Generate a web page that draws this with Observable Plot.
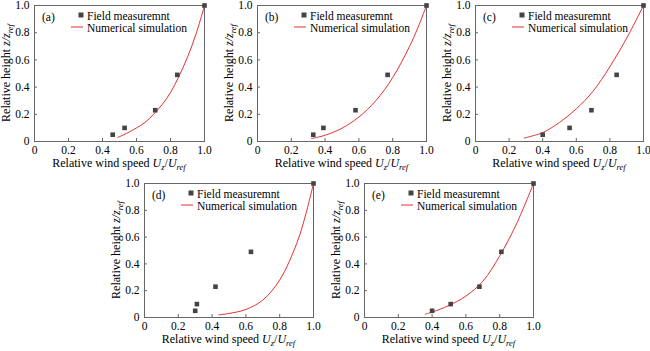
<!DOCTYPE html>
<html>
<head>
<meta charset="utf-8">
<script src="https://cdn.jsdelivr.net/npm/d3@7"></script>
<script src="https://cdn.jsdelivr.net/npm/@observablehq/plot@0.6"></script>
<style>
  html, body { margin: 0; padding: 0; background: #fff; }
  #chart { position: relative; width: 650px; height: 351px; overflow: hidden; background: #fff; }
  .panel { position: absolute; }
  .panel svg { display: block; }
</style>
</head>
<body>
<div id="chart"></div>
<script>
// ---------- data ----------
const panelLabels = ["(a)", "(b)", "(c)", "(d)", "(e)"];
const tickValues = [0, 0.2, 0.4, 0.6, 0.8, 1.0];
const tickLabels = ["0", "0.2", "0.4", "0.6", "0.8", "1.0"];
const legendLabels = ["Field measuremnt", "Numerical simulation"];

// field measurements: relative heights shared by all panels
const fieldZ = [0.05, 0.10, 0.23, 0.49, 1.00];
const fieldA_U = [0.46, 0.53, 0.71, 0.84, 1.00];
const fieldB_U = [0.33, 0.39, 0.58, 0.77, 1.00];
const fieldC_U = [0.40, 0.56, 0.69, 0.84, 1.00];
const fieldD_U = [0.30, 0.31, 0.42, 0.63, 1.00];
const fieldE_U = [0.40, 0.51, 0.68, 0.81, 1.00];

// numerical simulation curves
const simA_U = [0.49, 0.55, 0.60, 0.65, 0.70, 0.75, 0.80, 0.85, 0.90, 0.95, 1.00];
const simA_Z = [0.03, 0.065, 0.10, 0.14, 0.20, 0.27, 0.36, 0.48, 0.62, 0.79, 1.00];
const simB_U = [0.32, 0.40, 0.50, 0.60, 0.70, 0.80, 0.90, 0.95, 1.00];
const simB_Z = [0.022, 0.046, 0.098, 0.18, 0.30, 0.47, 0.70, 0.84, 1.00];
const simC_U = [0.29, 0.35, 0.40, 0.50, 0.60, 0.70, 0.80, 0.90, 1.00];
const simC_Z = [0.025, 0.045, 0.065, 0.14, 0.24, 0.37, 0.55, 0.76, 1.00];
const simD_U = [0.44, 0.50, 0.60, 0.70, 0.80, 0.90, 0.95, 1.00];
const simD_Z = [0.02, 0.03, 0.06, 0.13, 0.28, 0.55, 0.75, 1.00];
const simE_U = [0.36, 0.40, 0.50, 0.60, 0.70, 0.80, 0.90, 1.00];
const simE_Z = [0.025, 0.04, 0.09, 0.16, 0.27, 0.46, 0.70, 1.00];

const fieldU = [fieldA_U, fieldB_U, fieldC_U, fieldD_U, fieldE_U];
const simU = [simA_U, simB_U, simC_U, simD_U, simE_U];
const simZ = [simA_Z, simB_Z, simC_Z, simD_Z, simE_Z];

// ---------- layout (frame boxes in page pixels) ----------
const frames = [
  {x0: 34,  y0: 5,   x1: 204, y1: 141},
  {x0: 257, y0: 5,   x1: 426, y1: 141},
  {x0: 475, y0: 5,   x1: 643, y1: 141},
  {x0: 144, y0: 183, x1: 313, y1: 317},
  {x0: 364, y0: 183, x1: 533, y1: 317}
];

const FONT = "'Liberation Serif', 'Times New Roman', serif";
const FS = 11.5;   // tick labels and legend
const TFS = 12;    // axis titles
const RED = "#e4312f";
const GRAY = "#666";
const fmt = d => tickLabels[tickValues.indexOf(d)];

const chart = document.getElementById("chart");

frames.forEach((f, i) => {
  const mL = 34, mT = 6, mR = 5, mB = 34;
  const W = f.x1 - f.x0, H = f.y1 - f.y0;
  const field = fieldU[i].map((u, j) => ({u, z: fieldZ[j]}));
  const sim = simU[i].map((u, j) => ({u, z: simZ[i][j]}));

  const svg = Plot.plot({
    width: W + mL + mR,
    height: H + mT + mB,
    marginLeft: mL, marginTop: mT, marginRight: mR, marginBottom: mB,
    style: {fontFamily: FONT, fontSize: FS + "px", color: "#000", background: "transparent", maxWidth: "none", overflow: "visible"},
    x: {domain: [0, 1], axis: null},
    y: {domain: [0, 1], axis: null},
    marks: [
      Plot.axisX({ticks: tickValues, tickFormat: fmt, tickSize: -3, tickPadding: 7, stroke: GRAY, fill: "#000", fontSize: FS, fontFamily: FONT, label: null}),
      Plot.axisY({ticks: tickValues, tickFormat: fmt, tickSize: -3, tickPadding: 8, stroke: GRAY, fill: "#000", fontSize: FS, fontFamily: FONT, label: null}),
      Plot.frame({stroke: GRAY, strokeWidth: 1}),
      Plot.line(sim, {x: "u", y: "z", stroke: RED, strokeWidth: 1, curve: "catmull-rom"}),
      Plot.dot(field, {x: "u", y: "z", symbol: "square", r: 2.6, fill: "#444", stroke: null})
    ]
  });

  const s = d3.select(svg);
  const txt = (x, y, size) => s.append("text").attr("x", x).attr("y", y)
    .attr("text-anchor", "start").attr("font-size", size).attr("font-family", FONT).attr("fill", "#000");

  // panel label
  txt(mL + 8, mT + 16, FS).text(panelLabels[i]);

  // legend
  s.append("rect").attr("x", mL + 44.5).attr("y", mT + 7.5).attr("width", 5).attr("height", 5).attr("fill", "#444");
  txt(mL + 53, mT + 14.5, FS).text(legendLabels[0]);
  s.append("line").attr("x1", mL + 37).attr("x2", mL + 49).attr("y1", mT + 22).attr("y2", mT + 22)
    .attr("stroke", RED).attr("stroke-width", 1);
  txt(mL + 53, mT + 26.5, FS).text(legendLabels[1]);

  // x title
  const xt = txt(mL + W / 2, mT + H + 26, TFS).attr("text-anchor", "middle");
  xt.append("tspan").text("Relative wind speed ");
  xt.append("tspan").attr("font-style", "italic").text("U");
  xt.append("tspan").attr("font-style", "italic").attr("font-size", 8.5).attr("dy", 3).text("z");
  xt.append("tspan").attr("dy", -3).text("/");
  xt.append("tspan").attr("font-style", "italic").text("U");
  xt.append("tspan").attr("font-style", "italic").attr("font-size", 8.5).attr("dy", 3).text("ref");

  // y title
  const yt = txt(-(mT + H / 2), mL - 24, TFS).attr("transform", "rotate(-90)").attr("text-anchor", "middle");
  yt.append("tspan").text("Relative height ");
  yt.append("tspan").attr("font-style", "italic").text("z/z");
  yt.append("tspan").attr("font-style", "italic").attr("font-size", 8.5).attr("dy", 3).text("ref");

  const div = document.createElement("div");
  div.className = "panel";
  div.style.left = (f.x0 - mL) + "px";
  div.style.top = (f.y0 - mT) + "px";
  div.style.width = (W + mL + mR) + "px";
  div.appendChild(svg);
  chart.appendChild(div);
});
</script>
</body>
</html>
